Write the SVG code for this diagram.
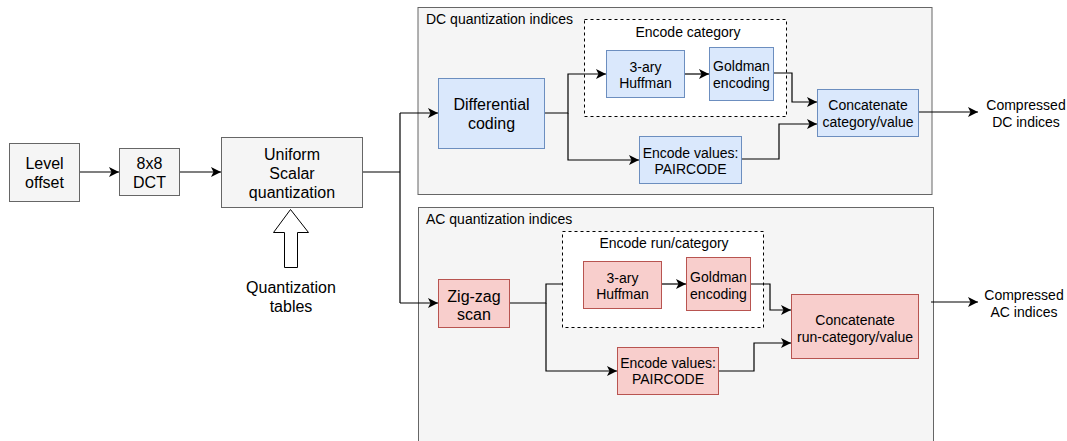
<svg xmlns="http://www.w3.org/2000/svg" width="1067" height="441" viewBox="0 0 1067 441">
<defs>
<style>
.t{font-family:"Liberation Sans",Arial,sans-serif;fill:#000;text-anchor:middle}
.s16{font-size:16px}
.s14{font-size:14px}
.gray{fill:#f5f5f5;stroke:#666666;stroke-width:1}
.blue{fill:#dae8fc;stroke:#6c8ebf;stroke-width:1}
.red{fill:#f8cecc;stroke:#b85450;stroke-width:1}
.dash{fill:#ffffff;stroke:#000;stroke-width:1;stroke-dasharray:3 3}
.c{fill:none;stroke:#000;stroke-width:1.2}
.ca{fill:none;stroke:#000;stroke-width:1.2;marker-end:url(#ah)}
</style>
<marker id="ah" markerWidth="12" markerHeight="10" refX="10" refY="5" orient="auto" markerUnits="userSpaceOnUse">
<path d="M0,0 L10,5 L0,10 L2.5,5 Z" fill="#000"/>
</marker>
</defs>

<g id="dc-container">
<rect class="gray" x="418" y="7.5" width="514" height="187"/>
<text class="t s14" x="426" y="24" style="text-anchor:start">DC quantization indices</text>
</g>
<g id="ac-container">
<rect class="gray" x="418.5" y="207.5" width="515" height="250"/>
<text class="t s14" x="426" y="224" style="text-anchor:start">AC quantization indices</text>
</g>
<g id="dc-encode-category">
<rect class="dash" x="584.5" y="19.5" width="202" height="97"/>
<text class="t s14" x="688" y="37">Encode category</text>
</g>
<g id="ac-encode-runcategory">
<rect class="dash" x="562.5" y="231.5" width="201" height="96"/>
<text class="t s14" x="664" y="248">Encode run/category</text>
</g>

<g id="connectors">
<line class="ca" x1="80" y1="172" x2="119" y2="172"/>
<line class="ca" x1="179" y1="172" x2="221" y2="172"/>
<polyline class="c" points="363,172 400,172"/>
<line class="c" x1="400" y1="113" x2="400" y2="303"/>
<line class="ca" x1="400" y1="113" x2="438" y2="113"/>
<line class="ca" x1="400" y1="303" x2="438" y2="303"/>
<!-- DC -->
<polyline class="ca" points="545,113 568,113 568,74 606,74"/>
<polyline class="ca" points="568,113 568,160 639,160"/>
<line class="ca" x1="684" y1="74" x2="709" y2="74"/>
<polyline class="ca" points="773,73 792,73 792,102 817,102"/>
<polyline class="ca" points="741,159 779,159 779,124 817,124"/>
<line class="ca" x1="918" y1="112" x2="978" y2="112"/>
<!-- AC -->
<polyline class="c" points="509,303 546,303 546,284 562,284"/>
<polyline class="ca" points="546,303 546,371 617,371"/>
<line class="ca" x1="661" y1="284" x2="686" y2="284"/>
<polyline class="ca" points="751,284 770,284 770,310 791,310"/>
<polyline class="ca" points="718,371 754,371 754,343 791,343"/>
<line class="ca" x1="931" y1="302" x2="978" y2="302"/>
</g>

<g id="level-offset">
<rect class="gray" x="9.5" y="143.5" width="70" height="58"/>
<text class="t s16" x="44.5" y="169">Level</text>
<text class="t s16" x="44.5" y="188">offset</text>
</g>
<g id="dct">
<rect class="gray" x="119.5" y="148.5" width="60" height="47"/>
<text class="t s16" x="149.5" y="169">8x8</text>
<text class="t s16" x="149.5" y="188">DCT</text>
</g>
<g id="quantization">
<rect class="gray" x="221.5" y="137.5" width="141" height="70"/>
<text class="t s16" x="292" y="160">Uniform</text>
<text class="t s16" x="292" y="179">Scalar</text>
<text class="t s16" x="292" y="198">quantization</text>
</g>
<g id="quant-tables">
<path d="M290.5,209.5 L308.5,232.5 L297.5,232.5 L297.5,267.5 L284.5,267.5 L284.5,232.5 L273.5,232.5 Z" fill="#fff" stroke="#000" stroke-width="1"/>
<text class="t s16" x="291" y="293">Quantization</text>
<text class="t s16" x="291" y="312">tables</text>
</g>

<g id="differential-coding">
<rect class="blue" x="438.5" y="78.5" width="106" height="70"/>
<text class="t s16" x="491.5" y="110">Differential</text>
<text class="t s16" x="491.5" y="129">coding</text>
</g>
<g id="dc-huffman">
<rect class="blue" x="606.5" y="50.5" width="78" height="47"/>
<text class="t s14" x="645.5" y="72">3-ary</text>
<text class="t s14" x="645.5" y="88">Huffman</text>
</g>
<g id="dc-goldman">
<rect class="blue" x="709.5" y="47.5" width="64" height="53"/>
<text class="t s14" x="741.5" y="71">Goldman</text>
<text class="t s14" x="741.5" y="88">encoding</text>
</g>
<g id="dc-paircode">
<rect class="blue" x="639.5" y="136.5" width="102" height="47"/>
<text class="t s14" x="690.5" y="158">Encode values:</text>
<text class="t s14" x="690.5" y="174">PAIRCODE</text>
</g>
<g id="dc-concat">
<rect class="blue" x="817.5" y="89.5" width="101" height="47"/>
<text class="t s14" x="868" y="110">Concatenate</text>
<text class="t s14" x="868" y="127">category/value</text>
</g>
<g id="dc-output">
<text class="t s14" x="1026" y="110">Compressed</text>
<text class="t s14" x="1026" y="127">DC indices</text>
</g>

<g id="zigzag">
<rect class="red" x="438.5" y="279.5" width="71" height="48"/>
<text class="t s16" x="474" y="302">Zig-zag</text>
<text class="t s16" x="474" y="320">scan</text>
</g>
<g id="ac-huffman">
<rect class="red" x="583.5" y="261.5" width="78" height="47"/>
<text class="t s14" x="622.5" y="283">3-ary</text>
<text class="t s14" x="622.5" y="299">Huffman</text>
</g>
<g id="ac-goldman">
<rect class="red" x="686.5" y="257.5" width="64" height="53"/>
<text class="t s14" x="718.5" y="282">Goldman</text>
<text class="t s14" x="718.5" y="299">encoding</text>
</g>
<g id="ac-paircode">
<rect class="red" x="617.5" y="347.5" width="101" height="47"/>
<text class="t s14" x="668" y="368">Encode values:</text>
<text class="t s14" x="668" y="384">PAIRCODE</text>
</g>
<g id="ac-concat">
<rect class="red" x="791.5" y="294.5" width="127" height="64"/>
<text class="t s14" x="855" y="325">Concatenate</text>
<text class="t s14" x="855" y="342">run-category/value</text>
</g>
<g id="ac-output">
<text class="t s14" x="1024" y="300">Compressed</text>
<text class="t s14" x="1024" y="317">AC indices</text>
</g>
</svg>
